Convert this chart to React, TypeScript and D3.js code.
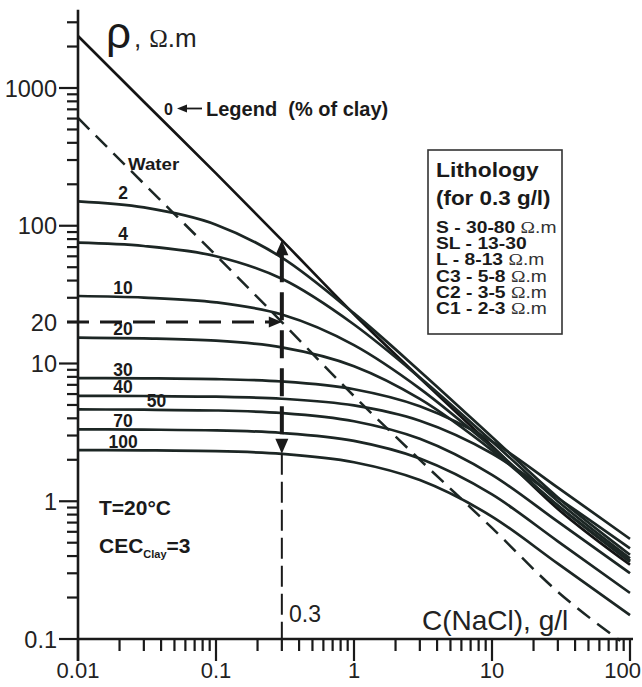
import React from "react";
import * as d3 from "d3";

// NaCl concentration (g/l) at which the curves were read
const concentration = [0.01, 0.03, 0.1, 0.3, 1, 3, 10, 30, 100];
// resistivity (ohm.m) per clay percentage
const clay0 = [2382, 794, 240, 78.6, 22.8, 7.86, 2.52, 0.88, 0.346];
const clay2 = [150.3, 135.8, 101.8, 58.7, 23.1, 8.8, 2.93, 1.065, 0.409];
const clay4 = [75.3, 71.3, 60.1, 41.2, 19.2, 7.9, 2.72, 1.0, 0.385];
const clay10 = [30.9, 30.1, 27.8, 22.7, 13.6, 6.58, 2.46, 0.93, 0.363];
const clay20 = [15.4, 15.2, 14.64, 13.1, 9.56, 5.53, 2.34, 0.93, 0.37];
const clay30 = [7.84, 7.8, 7.7, 7.4, 6.5, 4.89, 2.72, 1.256, 0.533];
const clay40 = [5.83, 5.81, 5.74, 5.55, 4.96, 3.84, 2.22, 1.056, 0.455];
const clay50 = [4.64, 4.62, 4.56, 4.37, 3.81, 2.84, 1.555, 0.711, 0.3];
const clay70 = [3.33, 3.31, 3.27, 3.13, 2.74, 2.04, 1.12, 0.512, 0.216];
const clay100 = [2.35, 2.34, 2.31, 2.21, 1.92, 1.425, 0.774, 0.352, 0.149];
const clayLabels = ["0", "2", "4", "10", "20", "30", "40", "50", "70", "100"];
const clayLabelC = [0, 0.0212, 0.0212, 0.0212, 0.0212, 0.0212, 0.0212, 0.037, 0.0212, 0.0212];
// water line
const waterConcentration = [0.01, 0.03, 0.1, 0.3, 1, 3, 10, 30, 85];
const waterRho = [606, 202, 61, 20, 5.8, 2.0, 0.64, 0.22, 0.097];
// axis labels
const xTickLabels = ["0.01", "0.1", "1", "10", "100"];
const xTickValues = [0.01, 0.1, 1, 10, 100];
const yTickLabels = ["0.1", "1", "10", "20", "100", "1000"];
const yTickValues = [0.1, 1, 10, 20, 100, 1000];
// lithology legend
const lithologyCodes = ["S - 30-80 ", "SL - 13-30", "L - 8-13 ", "C3 - 5-8 ", "C2 - 3-5 ", "C1 - 2-3 "];
const lithologyUnit = [true, false, true, true, true, true];
const markConcentration = 0.3;
const markWater = 20;

const SANS = "'Liberation Sans', Arial, sans-serif";
const SERIF = "'Liberation Serif', 'Times New Roman', serif";
const INK = "#1c2624";

export default function App() {
  const xScale = d3.scaleLog().domain([0.01, 100]).range([78, 630]);
  const yScale = d3.scaleLog().domain([0.1, 1000]).range([639, 88]);
  const allY = [clay0, clay2, clay4, clay10, clay20, clay30, clay40, clay50, clay70, clay100];
  const series = clayLabels.map((label, i) => ({ label, values: allY[i], labelC: clayLabelC[i] }));
  const mkLine = (xs: number[]) =>
    d3
      .line<number>()
      .x((_, i) => xScale(xs[i]))
      .y((d) => yScale(d))
      .curve(d3.curveMonotoneX);
  const clayLine = mkLine(concentration);
  const waterLine = mkLine(waterConcentration);

  const yTicks = d3.scaleLog().domain([0.1, 3500]).ticks();
  const xTicks = xScale.ticks();
  const isMajor = (v: number) => Math.abs(Math.log10(v) - Math.round(Math.log10(v))) < 1e-9;

  const x03 = xScale(markConcentration);
  const idx03 = concentration.indexOf(markConcentration);
  const yTop = yScale(clay0[idx03]);
  const yBot = yScale(clay100[idx03]);
  const y20 = yScale(markWater);
  const axisY = yScale(0.1);
  const axisX = xScale(0.01);

  return (
    <svg
      width={642}
      height={687}
      style={{ position: "absolute", left: 0, top: 0, background: "#fff" }}
      fontFamily={SANS}
    >
      {/* curves */}
      {series.map((s, i) => (
        <path
          key={s.label}
          d={clayLine(s.values) || ""}
          fill="none"
          stroke={i === 0 ? "#141414" : INK}
          strokeWidth={2.7}
        />
      ))}
      <path
        d={waterLine(waterRho) || ""}
        fill="none"
        stroke={INK}
        strokeWidth={2.5}
        strokeDasharray="16 9"
      />

      {/* axes */}
      <line x1={axisX} x2={axisX} y1={yScale(3700)} y2={661} stroke="#1a1a1a" strokeWidth={2.6} />
      <line x1={axisX} x2={633} y1={axisY} y2={axisY} stroke="#1a1a1a" strokeWidth={2.6} />
      {yTicks.map((v) => (
        <line
          key={"yt" + v}
          x1={isMajor(v) ? 59 : 67}
          x2={axisX}
          y1={yScale(v)}
          y2={yScale(v)}
          stroke="#1a1a1a"
          strokeWidth={2.2}
        />
      ))}
      {xTicks.map((v) => (
        <line
          key={"xt" + v}
          x1={xScale(v)}
          x2={xScale(v)}
          y1={axisY}
          y2={isMajor(v) ? 661 : 651}
          stroke="#1a1a1a"
          strokeWidth={2.2}
        />
      ))}
      {yTickLabels.map((t, i) => (
        <text
          key={"yl" + t}
          x={57}
          y={yScale(yTickValues[i]) + 8.5}
          textAnchor="end"
          fontSize={23.5}
          fill="#222"
        >
          {t}
        </text>
      ))}
      {xTickLabels.map((t, i) => {
        const last = i === xTickLabels.length - 1;
        return (
          <text
            key={"xl" + t}
            x={last ? 641 : xScale(xTickValues[i])}
            y={678}
            textAnchor={last ? "end" : "middle"}
            fontSize={22}
            fill="#222"
          >
            {t}
          </text>
        );
      })}

      {/* 0.3 g/l marker lines */}
      <line x1={67} x2={x03 - 12} y1={y20} y2={y20} stroke="#1a1a1a" strokeWidth={3} strokeDasharray="22 11" />
      <polygon points={`${x03},${y20} ${x03 - 13},${y20 - 5.5} ${x03 - 13},${y20 + 5.5}`} fill="#1a1a1a" />
      <line
        x1={x03}
        x2={x03}
        y1={yTop + 14}
        y2={yBot - 14}
        stroke="#1a1a1a"
        strokeWidth={4}
        strokeDasharray="28 10"
      />
      <polygon points={`${x03},${yTop} ${x03 - 6.5},${yTop + 15} ${x03 + 6.5},${yTop + 15}`} fill="#1a1a1a" />
      <polygon points={`${x03},${yBot} ${x03 - 6.5},${yBot - 15} ${x03 + 6.5},${yBot - 15}`} fill="#1a1a1a" />
      <line x1={x03} x2={x03} y1={yBot} y2={axisY} stroke="#1a1a1a" strokeWidth={2} strokeDasharray="21 7" />

      {/* curve labels */}
      {series.slice(1).map((s) => (
        <text
          key={"cl" + s.label}
          x={xScale(s.labelC)}
          y={yScale(s.values[0]) - 2.5}
          textAnchor="middle"
          fontSize={17.5}
          fontWeight="bold"
          fill="#1a1a1a"
        >
          {s.label}
        </text>
      ))}
      <text x={164} y={115} fontSize={16} fontWeight="bold" fill="#1a1a1a">
        {clayLabels[0]}
      </text>
      <line x1={185} x2={202} y1={108.5} y2={108.5} stroke="#1a1a1a" strokeWidth={1.8} />
      <polygon points="177,108.5 187,104.5 187,112.5" fill="#1a1a1a" />
      <text x={206} y={116} fontSize={20} fontWeight="bold" fill="#1a1a1a" xmlSpace="preserve">
        Legend  (% of clay)
      </text>
      <g transform="translate(128,170) scale(1.17,1)">
        <text x={0} y={0} fontSize={16} fontWeight="bold" fill="#1a1a1a">
          Water
        </text>
      </g>

      {/* title & axis label */}
      <text x={106} y={48} fontSize={44} fill="#1a1a1a">
        ρ
      </text>
      <text x={134} y={47} fontSize={26} fill="#222">
        ,
        <tspan dx={8} fontFamily={SERIF} fontSize={25}>
          Ω
        </tspan>
        <tspan>.m</tspan>
      </text>
      <text x={422} y={630} fontSize={28} fill="#222">
        C(NaCl), g/l
      </text>
      <text x={289} y={622} fontSize={23} fill="#222">
        {String(markConcentration)}
      </text>

      {/* conditions */}
      <text x={99} y={515} fontSize={21} fontWeight="bold" fill="#1a1a1a">
        T=20°C
      </text>
      <text x={99} y={553} fontSize={21} fontWeight="bold" fill="#1a1a1a">
        CEC
        <tspan fontSize={11} dy={5}>
          Clay
        </tspan>
        <tspan fontSize={21} dy={-5}>
          =3
        </tspan>
      </text>

      {/* lithology box */}
      <rect x={428} y={150} width={134} height={184} fill="#fff" stroke="#333" strokeWidth={1.6} />
      <g transform="translate(436,177) scale(1.17,1)">
        <text x={0} y={0} fontSize={19.5} fontWeight="bold" fill="#1a1a1a">
          Lithology
        </text>
      </g>
      <g transform="translate(436,205) scale(1.15,1)">
        <text x={0} y={0} fontSize={19.5} fontWeight="bold" fill="#1a1a1a">
          (for 0.3 g/l)
        </text>
      </g>
      {lithologyCodes.map((c, i) => (
        <g key={c} transform={`translate(436,${233 + i * 16.2}) scale(1.22,1)`}>
          <text x={0} y={0} fontSize={15.8} fontWeight="bold" fill="#1a1a1a" xmlSpace="preserve">
            {c}
            {lithologyUnit[i] ? (
              <tspan fontWeight="normal" fill="#333">
                <tspan fontFamily={SERIF} fontSize={16}>
                  Ω
                </tspan>
                .m
              </tspan>
            ) : null}
          </text>
        </g>
      ))}
    </svg>
  );
}
